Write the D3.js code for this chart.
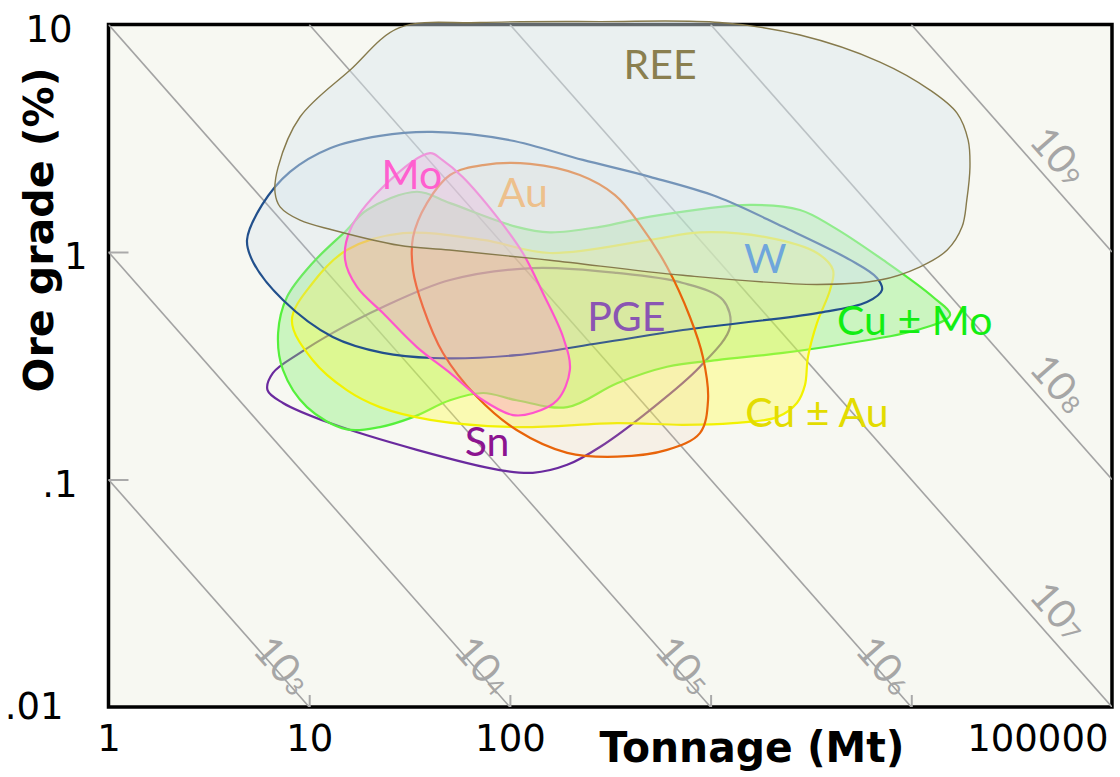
<!DOCTYPE html>
<html lang="en">

<head>
  <meta charset="UTF-8">
  <title>Grade-tonnage fields</title>
  <style>
    body { margin: 0; background: #fff; }
  </style>
</head>

<body>

  <svg id="chart" width="1120" height="777"></svg>

  <script src="https://d3js.org/d3.v7.min.js"></script>

  <script>
    // ---- data: [tonnage (Mt), grade (%)] ----
    var reeOutline = [[28, 9.66], [71, 10.2], [281, 10.3], [1110, 10.2], [2790, 8.99], [6980, 6.84],
      [12400, 5.15], [16900, 4.08], [19200, 3.10], [19600, 2.36], [18900, 1.69], [17900, 1.29],
      [15100, 1.02], [11000, 0.859], [6980, 0.753], [3390, 0.72], [728, 0.79], [158, 0.92],
      [50, 1.02], [28, 1.07], [13.1, 1.25], [9.0, 1.38], [7.16, 1.58], [6.76, 1.82], [7.0, 2.36],
      [9.0, 3.92], [16, 6.31]];

    var wOutline = [[4.9, 1.13], [5.82, 1.61], [8.02, 2.25], [12.7, 2.86], [22.5, 3.24], [40.9, 3.37],
      [100, 3.10], [231, 2.54], [499, 2.14], [1076, 1.75], [2296, 1.29], [4955, 0.923], [6745, 0.769],
      [7145, 0.681], [6010, 0.603], [3390, 0.539], [728, 0.454], [281, 0.398], [108, 0.352],
      [41.4, 0.342], [23.3, 0.36], [13.1, 0.423], [7.4, 0.615], [5.25, 0.904]];

    var cuMoOutline = [[7.0, 0.441], [7.75, 0.634], [10.4, 0.895], [15.4, 1.25], [19.4, 1.53], [34.4, 1.84],
      [50.3, 1.64], [108, 1.29], [158, 1.22], [281, 1.29], [499, 1.43], [1571, 1.61], [2788, 1.53],
      [4073, 1.29], [7228, 0.923], [12830, 0.634], [15600, 0.528], [10670, 0.454], [4955, 0.398],
      [2296, 0.36], [1076, 0.335], [607, 0.313], [342, 0.265], [193, 0.208], [108, 0.223], [73.5, 0.24],
      [50.3, 0.223], [32.9, 0.188], [22.5, 0.17], [15.4, 0.166], [9.75, 0.208], [7.4, 0.303]];

    var cuAuOutline = [[8.2, 0.50], [10.4, 0.731], [15.4, 1.02], [29.3, 1.21], [73.5, 1.13], [158, 0.99],
      [499, 1.13], [885, 1.22], [1910, 1.16], [3390, 0.99], [4073, 0.833], [3936, 0.681], [3390, 0.488],
      [3055, 0.345], [2952, 0.26], [2692, 0.217], [2143, 0.188], [1294, 0.177], [728, 0.174], [342, 0.177],
      [108, 0.17], [40, 0.183], [22.5, 0.208], [15.4, 0.247], [10.4, 0.335]];

    var moOutline = [[40, 2.72], [46, 2.54], [58, 2.14], [86, 1.43], [116, 0.99], [146, 0.66], [184, 0.423],
      [199, 0.303], [172, 0.223], [130, 0.196], [103.5, 0.192], [73.5, 0.223], [50.3, 0.294], [34.4, 0.382],
      [23.3, 0.539], [17.3, 0.702], [15.1, 0.923], [16, 1.25], [23.3, 1.93]];

    var auOutline = [[73.5, 2.41], [126, 2.44], [223, 2.18], [334, 1.78], [445, 1.32], [607, 0.859],
      [789, 0.518], [916, 0.345], [971, 0.223], [885, 0.16], [607, 0.135], [342, 0.126], [193, 0.131],
      [108, 0.165], [68.5, 0.231], [46.4, 0.36], [36.9, 0.573], [32.9, 0.833], [32.9, 1.16], [38.6, 1.64],
      [50.3, 2.18]];

    var snPgeOutline = [[130, 0.85], [342, 0.809], [728, 0.731], [1153, 0.615], [1250, 0.468], [885, 0.313],
      [499, 0.202], [281, 0.139], [193, 0.116], [130, 0.107], [89, 0.11], [34.4, 0.135], [12.7, 0.177],
      [7.4, 0.217], [6.2, 0.247], [6.6, 0.294], [9.0, 0.36], [13.1, 0.441], [23.3, 0.573], [50.3, 0.753]];

    // field labels and where they sit [tonnage, grade]
    var fieldLabels = ["REE", "Mo", "Au", "W", "PGE", "Cu \u00b1 Mo", "Cu \u00b1 Au", "Sn"];
    var fieldLabelAt = [[560, 6.7], [32.5, 2.2], [116, 1.84], [1870, 0.94], [380, 0.52], [10400, 0.50],
      [3390, 0.198], [77, 0.148]];

    // contained metal lines (tonnes) -> Mt x % = metal / 1e4
    var metalLevels = [1e3, 1e4, 1e5, 1e6, 1e7, 1e8, 1e9];

    var xTicks = [1, 10, 100, 100000];
    var xTickText = ["1", "10", "100", "100000"];
    var yTicks = [0.01, 0.1, 1, 10];
    var yTickText = [".01", ".1", "1", "10"];

    // ---- chart ----
    var svg = d3.select("#chart"),
      x = d3.scaleLog().domain([1, 1e5]).range([108.5, 1112]),
      y = d3.scaleLog().domain([0.01, 10]).range([707, 24.5]);

    var plotL = x.range()[0], plotR = x.range()[1], plotT = y.range()[1], plotB = y.range()[0];

    svg.append("defs").append("clipPath").attr("id", "plotclip")
      .append("rect")
      .attr("x", plotL).attr("y", plotT)
      .attr("width", plotR - plotL).attr("height", plotB - plotT);

    // plot background + frame
    svg.append("rect")
      .attr("x", plotL).attr("y", plotT)
      .attr("width", plotR - plotL).attr("height", plotB - plotT)
      .attr("fill", "#f7f8f2")
      .attr("stroke", "#000")
      .attr("stroke-width", 3.5);

    // iso-metal lines
    var iso = svg.append("g").attr("clip-path", "url(#plotclip)");
    metalLevels.forEach(function(m) {
      var p = m / 1e4,
        t0 = Math.max(1, p / 10),
        t1 = Math.min(1e5, p / 0.01);
      iso.append("line")
        .attr("x1", x(t0)).attr("y1", y(p / t0))
        .attr("x2", x(t1)).attr("y2", y(p / t1))
        .attr("stroke", "#a3a3a3")
        .attr("stroke-width", 1.6);
    });

    // small inner ticks
    svg.append("g")
      .attr("transform", "translate(" + plotL + ",0)")
      .call(d3.axisLeft(y).tickValues([0.1, 1]).tickSize(-20).tickFormat(""))
      .call(function(g) { g.select(".domain").remove(); })
      .selectAll("line").attr("stroke", "#aaa").attr("stroke-width", 2);

    svg.append("g")
      .attr("transform", "translate(0," + plotB + ")")
      .call(d3.axisBottom(x).tickValues([10, 100, 1000, 10000]).tickSize(-12).tickFormat(""))
      .call(function(g) { g.select(".domain").remove(); })
      .selectAll("line").attr("stroke", "#aaa").attr("stroke-width", 2);

    // fields, drawn bottom to top
    var outline = d3.line()
      .x(function(d) { return x(d[0]); })
      .y(function(d) { return y(d[1]); })
      .curve(d3.curveCatmullRomClosed.alpha(0.5));

    var fields = [
      { pts: snPgeOutline, fill: "none", stroke: "#6a2a9e", width: 2.2 },
      { pts: cuMoOutline, fill: "rgba(120,240,100,0.35)", stroke: "#55f03c", width: 2.2 },
      { pts: cuAuOutline, fill: "rgba(255,255,60,0.35)", stroke: "#f2f200", width: 2.2 },
      { pts: wOutline, fill: "rgba(190,210,235,0.2)", stroke: "#22508c", width: 2.2 },
      { pts: auOutline, fill: "rgba(240,190,150,0.12)", stroke: "#e8640a", width: 2.2 },
      { pts: moOutline, fill: "rgba(255,130,210,0.3)", stroke: "#ff55cc", width: 2.2 },
      { pts: reeOutline, fill: "rgba(218,230,238,0.45)", stroke: "#867a4c", width: 1.4 }
    ];

    svg.append("g").selectAll("path")
      .data(fields)
      .join("path")
      .attr("d", function(d) { return outline(d.pts); })
      .attr("fill", function(d) { return d.fill; })
      .attr("stroke", function(d) { return d.stroke; })
      .attr("stroke-width", function(d) { return d.width; });

    // iso-metal labels, rotated along the lines
    var ang = Math.atan2(y(0.1) - y(1), x(10) - x(1)),
      angDeg = ang * 180 / Math.PI,
      nx = Math.sin(ang), ny = -Math.cos(ang); // normal pointing up-right

    metalLevels.forEach(function(m) {
      var p = m / 1e4, t, g, off;
      if (m <= 1e6) { g = 0.0145; t = p / g; off = 8; }
      else { t = 44300; g = p / t; off = 24; }
      var px = x(t) + nx * off, py = y(g) + ny * off;
      var lab = svg.append("text")
        .attr("transform", "translate(" + px + "," + py + ") rotate(" + angDeg + ")")
        .attr("text-anchor", "middle")
        .attr("dy", "0.36em")
        .attr("fill", "#a6a6a6")
        .attr("font-family", "Lato, 'DejaVu Sans', sans-serif")
        .attr("font-size", 40);
      lab.append("tspan").text("10");
      lab.append("tspan").attr("font-size", 25).attr("dx", 1).text(String(Math.round(Math.log10(m))));
    });

    // field labels
    var labelColor = ["#8a7f4f", "#ff5fcf", "#edc08c", "#6fa6dc", "#8a55b3", "#12ee12", "#e3dc00", "#8c1490"];
    svg.append("g").selectAll("text")
      .data(fieldLabels)
      .join("text")
      .attr("x", function(d, i) { return x(fieldLabelAt[i][0]); })
      .attr("y", function(d, i) { return y(fieldLabelAt[i][1]); })
      .attr("dy", "0.36em")
      .attr("text-anchor", "middle")
      .attr("fill", function(d, i) { return labelColor[i]; })
      .attr("font-family", "Lato, 'Open Sans', sans-serif")
      .attr("font-size", 41)
      .text(function(d) { return d; });

    // tick labels
    var yTickNudge = [-15, -1, 9, -6]; // hand-placed boxes in the original
    var yAx = svg.append("g")
      .attr("transform", "translate(" + plotL + ",0)")
      .call(d3.axisLeft(y).tickValues(yTicks).tickSize(0).tickPadding(30)
        .tickFormat(function(d, i) { return yTickText[i]; }));
    yAx.select(".domain").remove();
    yAx.selectAll("text")
      .attr("font-family", "'DejaVu Sans', sans-serif")
      .attr("font-size", 37)
      .attr("fill", "#000")
      .attr("dx", function(d, i) { return yTickNudge[i]; })
      .attr("dy", function(d) { return d === 0.01 ? "0.3em" : "0.45em"; });

    var xAx = svg.append("g")
      .attr("transform", "translate(0," + plotB + ")")
      .call(d3.axisBottom(x).tickValues(xTicks).tickSize(0).tickPadding(18)
        .tickFormat(function(d, i) { return xTickText[i]; }));
    xAx.select(".domain").remove();
    xAx.selectAll("text")
      .attr("font-family", "'DejaVu Sans', sans-serif")
      .attr("font-size", 37)
      .attr("fill", "#000");
    xAx.selectAll("text").filter(function(d) { return d === 100000; })
      .attr("text-anchor", "end")
      .attr("dx", -4);

    // axis titles
    svg.append("text")
      .attr("transform", "translate(53,230) rotate(-90)")
      .attr("text-anchor", "middle")
      .attr("font-family", "'DejaVu Sans', sans-serif")
      .attr("font-weight", "bold")
      .attr("font-size", 40)
      .attr("textLength", 325)
      .attr("lengthAdjust", "spacingAndGlyphs")
      .text("Ore grade (%)");

    svg.append("text")
      .attr("x", 752).attr("y", 762)
      .attr("text-anchor", "middle")
      .attr("font-family", "'DejaVu Sans', sans-serif")
      .attr("font-weight", "bold")
      .attr("font-size", 42)
      .attr("textLength", 305)
      .attr("lengthAdjust", "spacingAndGlyphs")
      .text("Tonnage (Mt)");
  </script>

</body>

</html>
